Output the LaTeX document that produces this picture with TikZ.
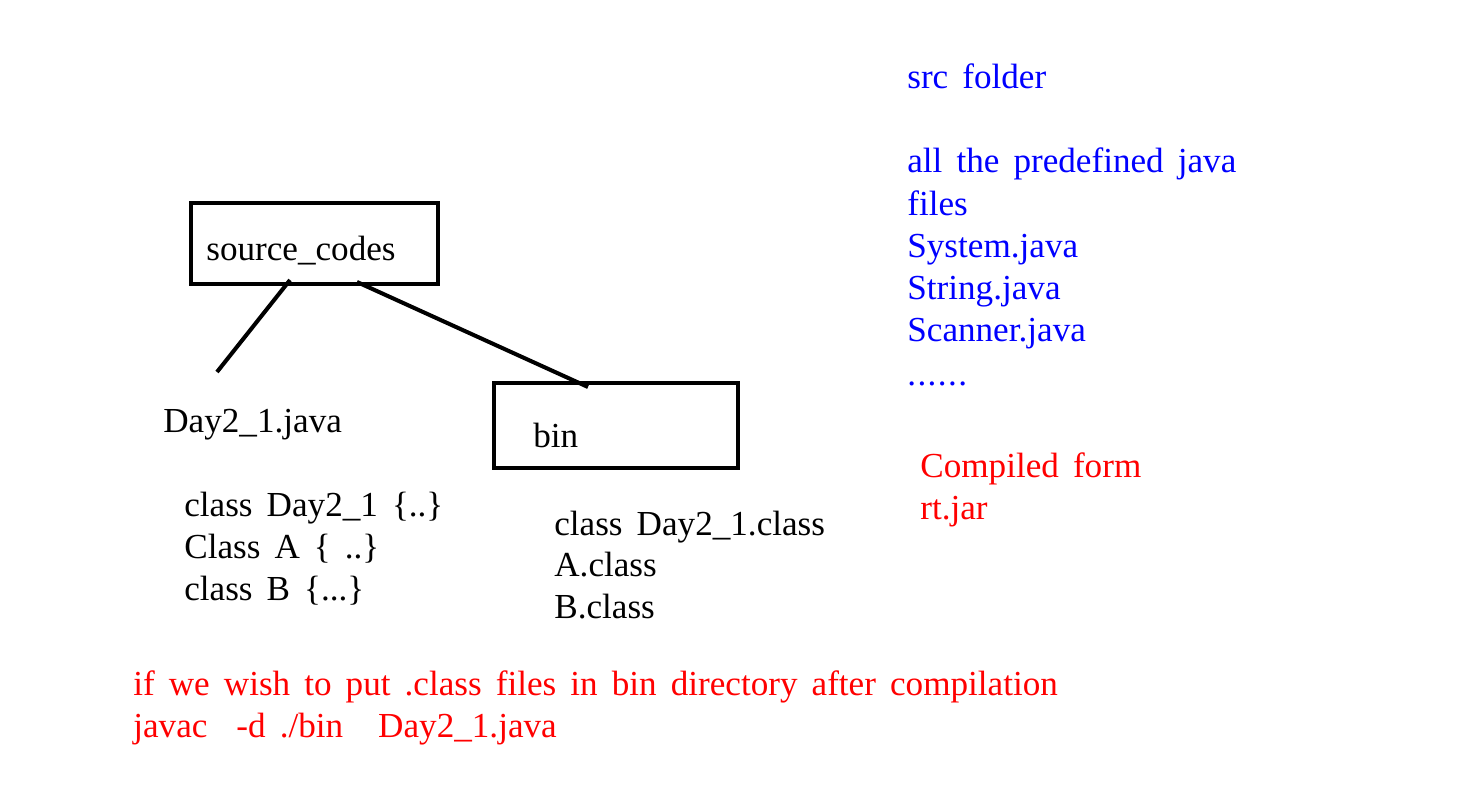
\documentclass[tikz,border=0pt]{standalone}
\usepackage{fontspec}
\setmainfont{Liberation Serif}
\usetikzlibrary{positioning}
\newcommand\notefont{\fontsize{20}{24}\selectfont\spaceskip=8pt\relax}

\begin{document}
\begin{tikzpicture}[x=0.02cm,y=-0.02cm,
    every node/.style={font=\notefont},
    txt/.style={anchor=base west,inner sep=0pt},
    folder/.style={draw,line width=2.3pt,inner sep=0pt},
    link/.style={line width=2.3pt}]
    \useasboundingbox (0,0) rectangle (1481,794);

    % Folders
    \node[folder,minimum width=4.94cm,minimum height=1.62cm] (srcbox) at (314.5,243.5) {};
    \node[txt] (srcname) at (206,260) {source\_codes};
    \node[folder,minimum width=4.88cm,minimum height=1.7cm] (binbox) at (616,425.5) {};
    \node[txt] (binname) at (533,447) {bin};

    % Links
    \coordinate (s1) at (290,280);
    \coordinate (j1) at (217,372);
    \coordinate (s2) at (357,282);
    \coordinate (b1) at (588,387);
    \draw[link] (s1) -- (j1);
    \draw[link] (s2) -- (b1);

    % Source file
    \node[txt] (javafile) at (163,432) {Day2\_1.java};
    \node[txt] (cls1) at (184,516) {class Day2\_1 \{..\}};
    \node[txt] (cls2) at (184,558) {Class A \{ ..\}};
    \node[txt] (cls3) at (184,600) {class B \{...\}};

    % Class files
    \node[txt] (out1) at (554,535) {class Day2\_1.class};
    \node[txt] (out2) at (554,576) {A.class};
    \node[txt] (out3) at (554,618) {B.class};

    % src folder notes
    \node[txt,blue] (src) at (907,89) {src folder};
    \node[txt,blue] (all) at (907,173) {all the predefined java};
    \node[txt,blue] (files) at (907,215) {files};
    \node[txt,blue] (sys) at (907,257) {System.java};
    \node[txt,blue] (str) at (907,299) {String.java};
    \node[txt,blue] (scan) at (907,341) {Scanner.java};
    \node[txt,blue] (dots) at (907,385) {.\kern0.8pt.\kern0.8pt.\kern0.8pt.\kern0.8pt.\kern0.8pt.};

    % Compiled form
    \node[txt,red] (comp) at (920,477) {Compiled form};
    \node[txt,red] (rtjar) at (920,519) {rt.jar};

    % Command
    \node[txt,red] (wish) at (133,695) {if we wish to put .class files in bin directory after compilation};
    \node[txt,red] (cmd) at (133,737) {javac\hspace{0.58cm}-d ./bin\hspace{0.7cm}Day2\_1.java};
\end{tikzpicture}
\end{document}
